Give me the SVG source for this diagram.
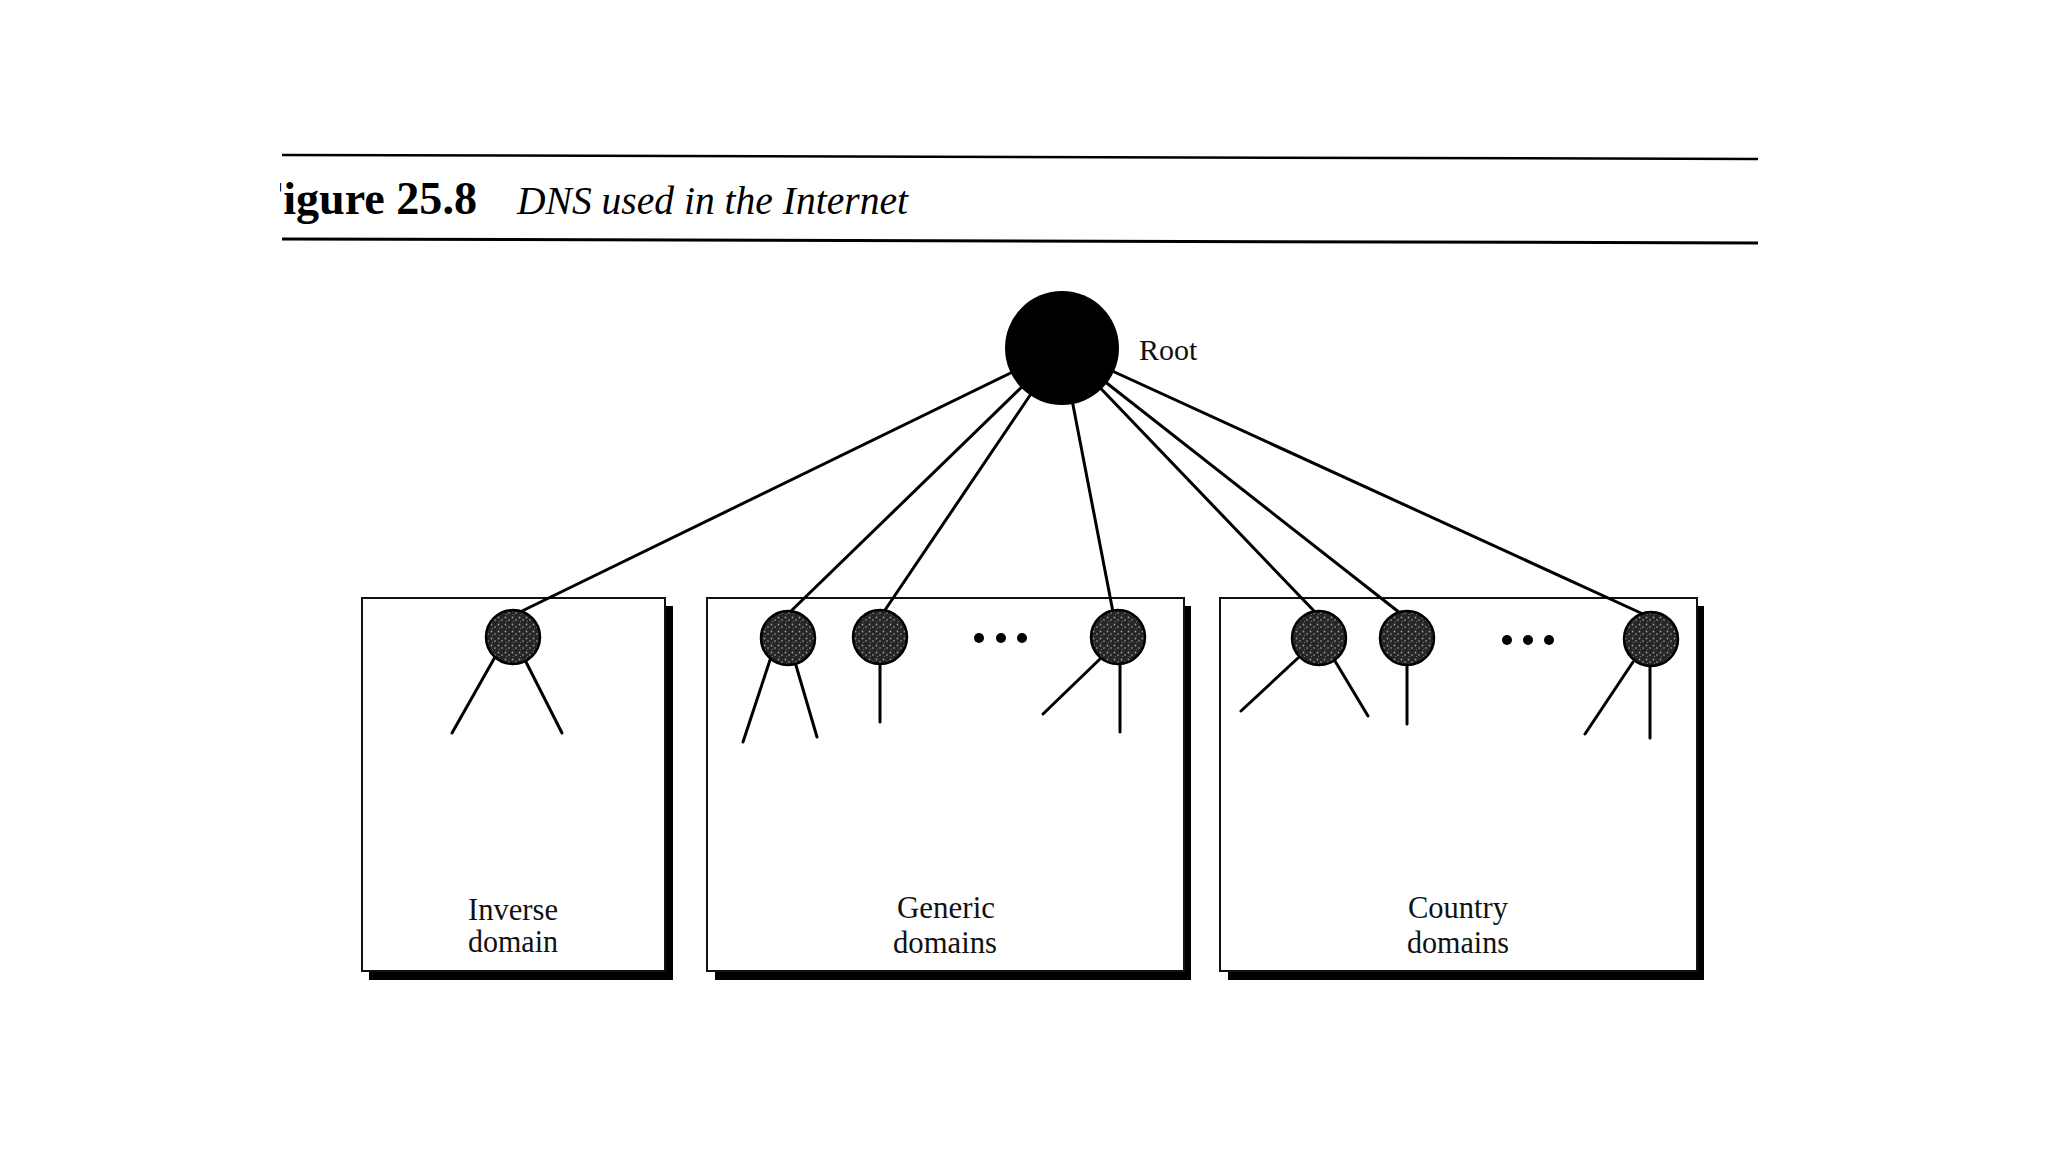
<svg xmlns="http://www.w3.org/2000/svg" width="2048" height="1152" viewBox="0 0 2048 1152">
<style>
.rule{stroke:#000;fill:none}
.box{fill:#fff;stroke:#111;stroke-width:2}
.shadow{fill:#000}
.edge{stroke:#000;stroke-width:3;fill:none;stroke-linecap:round}
.node{fill:url(#stip);stroke:#000;stroke-width:2.5}
.dot{fill:#000}
.lbl{font-family:"Liberation Serif","Times New Roman",serif;font-size:31px;fill:#111;text-anchor:middle}
</style>
<defs>
<pattern id="stip" width="7" height="7" patternUnits="userSpaceOnUse">
<rect width="7" height="7" fill="#262626"/>
<circle cx="1.5" cy="1.5" r="0.9" fill="#9a9a9a"/>
<circle cx="5" cy="4" r="0.8" fill="#b0b0b0"/>
<circle cx="2.5" cy="5.5" r="0.6" fill="#7a7a7a"/>
</pattern>
<clipPath id="titleclip"><rect x="280" y="165" width="1500" height="70"/></clipPath>
</defs>
<rect width="2048" height="1152" fill="#fff"/>

<g id="title">
<line class="rule" x1="282" y1="155" x2="1758" y2="159" stroke-width="2.5"/>
<line class="rule" x1="282" y1="239" x2="1758" y2="243" stroke-width="3"/>
<text x="255" y="214" clip-path="url(#titleclip)" font-family="Liberation Serif,'Times New Roman',serif" font-weight="bold" font-size="46" fill="#000" textLength="222" lengthAdjust="spacingAndGlyphs">Figure 25.8</text>
<text x="517" y="214" font-family="Liberation Serif,'Times New Roman',serif" font-style="italic" font-size="40" fill="#000" textLength="391" lengthAdjust="spacingAndGlyphs">DNS used in the Internet</text>
</g>

<g id="box-inverse">
<rect class="shadow" x="369" y="606" width="304" height="374"/>
<rect class="box" x="362" y="598" width="303" height="373"/>
<text class="lbl" x="513" y="920" textLength="90" lengthAdjust="spacingAndGlyphs">Inverse</text>
<text class="lbl" x="513" y="952" textLength="90" lengthAdjust="spacingAndGlyphs">domain</text>
</g>
<g id="box-generic">
<rect class="shadow" x="715" y="606" width="476" height="374"/>
<rect class="box" x="707" y="598" width="477" height="373"/>
<text class="lbl" x="946" y="918" textLength="98" lengthAdjust="spacingAndGlyphs">Generic</text>
<text class="lbl" x="945" y="953" textLength="104" lengthAdjust="spacingAndGlyphs">domains</text>
</g>
<g id="box-country">
<rect class="shadow" x="1228" y="606" width="476" height="374"/>
<rect class="box" x="1220" y="598" width="477" height="373"/>
<text class="lbl" x="1458" y="918" textLength="100" lengthAdjust="spacingAndGlyphs">Country</text>
<text class="lbl" x="1458" y="953" textLength="102" lengthAdjust="spacingAndGlyphs">domains</text>
</g>

<g id="connectors">
<line class="edge" x1="1062" y1="348" x2="520" y2="612"/>
<line class="edge" x1="1062" y1="348" x2="790" y2="612"/>
<line class="edge" x1="1062" y1="348" x2="883" y2="613"/>
<line class="edge" x1="1062" y1="348" x2="1113" y2="612"/>
<line class="edge" x1="1062" y1="348" x2="1315" y2="612"/>
<line class="edge" x1="1062" y1="348" x2="1400" y2="613"/>
<line class="edge" x1="1062" y1="348" x2="1643" y2="614"/>
<line class="edge" x1="495" y1="657" x2="452" y2="733"/>
<line class="edge" x1="525" y1="660" x2="562" y2="733"/>
<line class="edge" x1="770" y1="660" x2="743" y2="742"/>
<line class="edge" x1="795" y1="662" x2="817" y2="737"/>
<line class="edge" x1="880" y1="660" x2="880" y2="722"/>
<line class="edge" x1="1100" y1="659" x2="1043" y2="714"/>
<line class="edge" x1="1120" y1="660" x2="1120" y2="732"/>
<line class="edge" x1="1298" y1="658" x2="1241" y2="711"/>
<line class="edge" x1="1335" y1="661" x2="1368" y2="716"/>
<line class="edge" x1="1407" y1="662" x2="1407" y2="724"/>
<line class="edge" x1="1633" y1="662" x2="1585" y2="734"/>
<line class="edge" x1="1650" y1="662" x2="1650" y2="738"/>
</g>

<g id="root">
<circle cx="1062" cy="348" r="57" fill="#000"/>
<text x="1139" y="360" font-family="Liberation Serif,'Times New Roman',serif" font-size="30" fill="#111">Root</text>
</g>
<g id="node-inverse"><circle class="node" cx="513" cy="637" r="27"/></g>
<g id="node-generic-1"><circle class="node" cx="788" cy="638" r="27"/></g>
<g id="node-generic-2"><circle class="node" cx="880" cy="637" r="27"/></g>
<g id="dots-generic"><circle class="dot" cx="979" cy="638" r="5"/><circle class="dot" cx="1001" cy="638" r="5"/><circle class="dot" cx="1022" cy="638" r="5"/></g>
<g id="node-generic-3"><circle class="node" cx="1118" cy="637" r="27"/></g>
<g id="node-country-1"><circle class="node" cx="1319" cy="638" r="27"/></g>
<g id="node-country-2"><circle class="node" cx="1407" cy="638" r="27"/></g>
<g id="dots-country"><circle class="dot" cx="1507" cy="640" r="5"/><circle class="dot" cx="1528" cy="640" r="5"/><circle class="dot" cx="1549" cy="640" r="5"/></g>
<g id="node-country-3"><circle class="node" cx="1651" cy="639" r="27"/></g>
</svg>
